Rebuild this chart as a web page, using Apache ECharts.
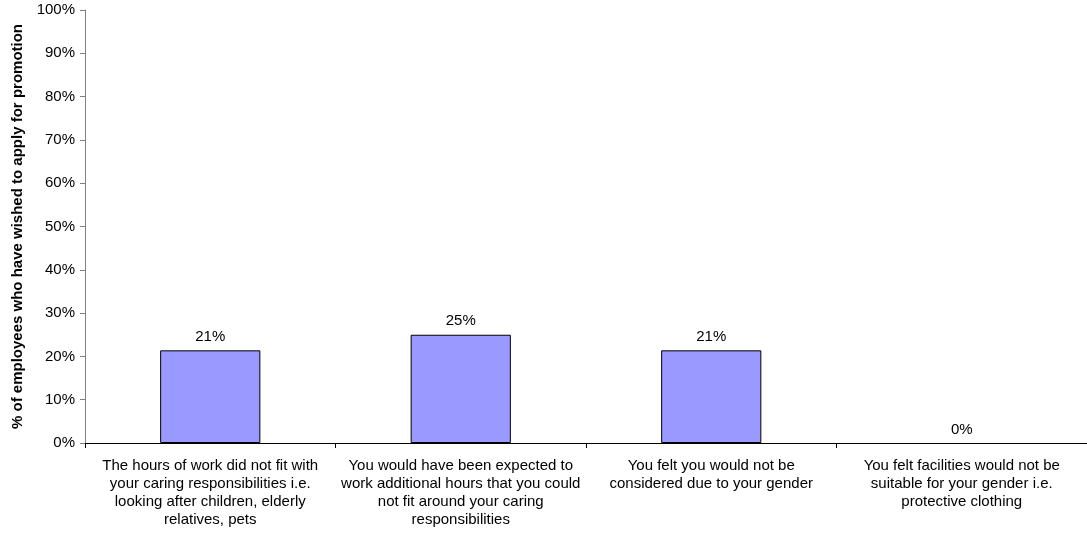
<!DOCTYPE html>
<html>
<head>
<meta charset="utf-8">
<script src="https://cdn.jsdelivr.net/npm/echarts@6/dist/echarts.min.js"></script>
<style>
  html, body { margin: 0; padding: 0; background: #fff; }
  #chart { width: 1087px; height: 533px; }
</style>
</head>
<body>
<div id="chart"></div>
<script>
// categories (line breaks as in the source chart)
const categories = [
  'The hours of work did not fit with\nyour caring responsibilities i.e.\nlooking after children, elderly\nrelatives, pets',
  'You would have been expected to\nwork additional hours that you could\nnot fit around your caring\nresponsibilities',
  'You felt you would not be\nconsidered due to your gender',
  'You felt facilities would not be\nsuitable for your gender i.e.\nprotective clothing'
]
// % of employees
const values = [21.4, 25.0, 21.4, 0]
const yTicks = [0, 10, 20, 30, 40, 50, 60, 70, 80, 90, 100]

const font = 'Arial, "Liberation Sans", sans-serif'

const option = {
  animation: false,
  grid: { left: 85, right: 0, top: 10, bottom: 90, outerBoundsMode: 'none' },
  xAxis: {
    type: 'category',
    data: categories,
    axisLine: { lineStyle: { color: '#000', width: 1 } },
    axisTick: { show: true, length: 5, interval: 0, lineStyle: { color: '#000' } },
    axisLabel: {
      interval: 0,
      color: '#000',
      fontFamily: font,
      fontSize: 15,
      lineHeight: 18,
      margin: 14
    }
  },
  yAxis: {
    type: 'value',
    min: yTicks[0],
    max: yTicks[yTicks.length - 1],
    interval: 10,
    name: '% of employees who have wished to apply for promotion',
    nameLocation: 'middle',
    nameGap: 60,
    nameTextStyle: { color: '#000', fontFamily: font, fontSize: 15, fontWeight: 'bold' },
    axisLine: { show: true, lineStyle: { color: '#808080', width: 1 } },
    axisTick: { show: true, length: 5, lineStyle: { color: '#808080' } },
    axisLabel: { color: '#000', fontFamily: font, fontSize: 15, margin: 10, formatter: '{value}%' },
    splitLine: { show: false }
  },
  series: [
    {
      type: 'bar',
      data: values.map(v => v === 0 ? { value: v, itemStyle: { borderWidth: 0 } } : v),
      barWidth: '40%',
      itemStyle: { color: '#9999FF', borderColor: '#000', borderWidth: 1 },
      label: {
        show: true,
        position: 'top',
        distance: 6,
        color: '#000',
        fontFamily: font,
        fontSize: 15,
        formatter: p => Math.round(p.value) + '%'
      }
    }
  ]
}

const myChart = echarts.init(document.getElementById('chart'))
myChart.setOption(option)
</script>
</body>
</html>
